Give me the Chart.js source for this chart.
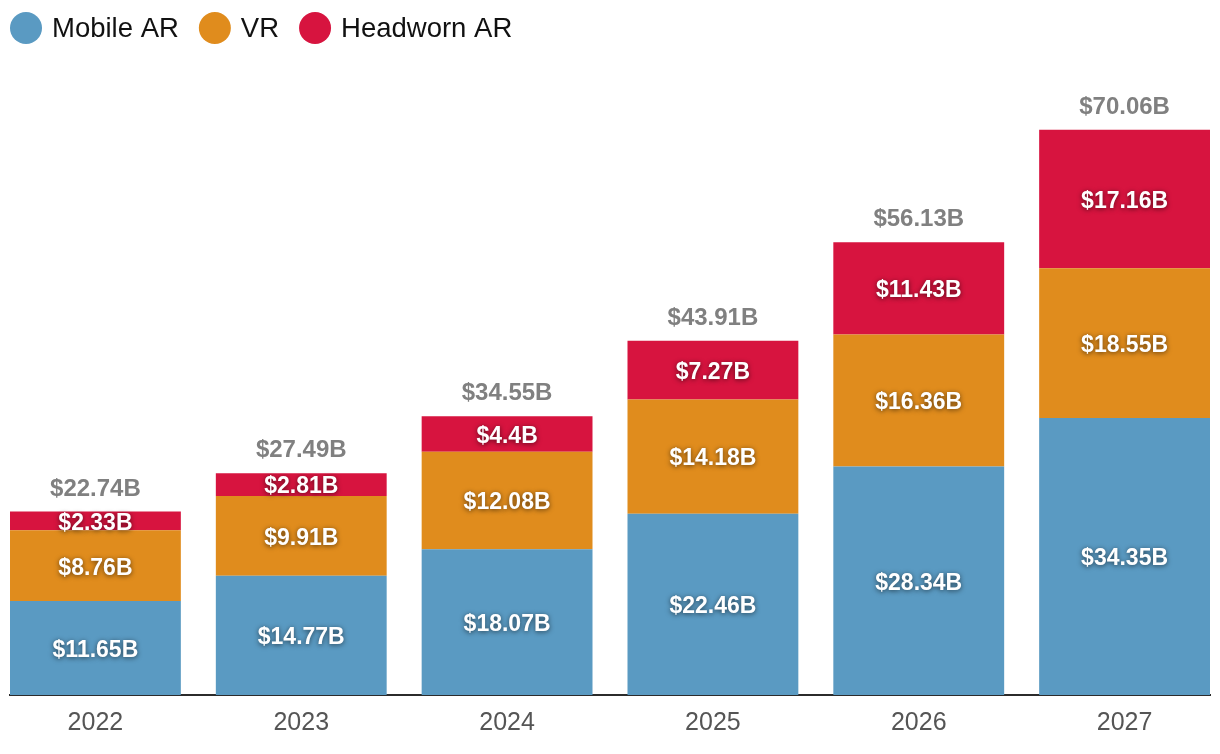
<!DOCTYPE html>
<html>
<head>
<meta charset="utf-8">
<script src="https://cdn.jsdelivr.net/npm/chart.js@4.4.1/dist/chart.umd.min.js"></script>
<style>
  html, body { margin: 0; padding: 0; background: #fff; }
  #wrap { width: 1220px; height: 754px; position: relative; }
</style>
</head>
<body>
<div id="wrap"><canvas id="c" width="1220" height="754"></canvas></div>
<script>
const years = ['2022', '2023', '2024', '2025', '2026', '2027'];
const mobileAR = [11.65, 14.77, 18.07, 22.46, 28.34, 34.35];
const vr = [8.76, 9.91, 12.08, 14.18, 16.36, 18.55];
const headwornAR = [2.33, 2.81, 4.4, 7.27, 11.43, 17.16];
const seriesNames = ['Mobile AR', 'VR', 'Headworn AR'];
const seriesColors = ['#5A9AC2', '#E08C1D', '#D7143F'];

const FONT = '"Liberation Sans", Arial, Helvetica, sans-serif';
const EDGE = 0.415; // fraction of a category step left as margin at the chart edges

const legendPlugin = {
  id: 'customLegend',
  afterDraw(chart) {
    const ctx = chart.ctx;
    ctx.save();
    ctx.font = '27.5px ' + FONT;
    ctx.textBaseline = 'middle';
    ctx.textAlign = 'left';
    let x = 10;
    const cy = 28;
    chart.data.datasets.forEach(ds => {
      ctx.fillStyle = ds.backgroundColor;
      ctx.beginPath();
      ctx.arc(x + 16, cy, 16, 0, Math.PI * 2);
      ctx.fill();
      ctx.fillStyle = '#111';
      ctx.fillText(ds.label, x + 42, cy + 1);
      x += 42 + ctx.measureText(ds.label).width + 20;
    });
    ctx.restore();
  }
};

const labelPlugin = {
  id: 'barLabels',
  afterDatasetsDraw(chart) {
    const ctx = chart.ctx;
    ctx.save();
    ctx.textAlign = 'center';
    ctx.textBaseline = 'middle';
    ctx.font = 'bold 23px ' + FONT;
    chart.data.datasets.forEach((ds, di) => {
      const meta = chart.getDatasetMeta(di);
      meta.data.forEach((el, i) => {
        const v = ds.data[i];
        const cy = (el.y + el.base) / 2;
        ctx.shadowColor = 'rgba(0,0,0,0.6)';
        ctx.shadowBlur = 5;
        ctx.shadowOffsetX = 0;
        ctx.shadowOffsetY = 1;
        ctx.fillStyle = '#ffffff';
        ctx.fillText('$' + v + 'B', el.x, cy + 2.5);
      });
    });
    ctx.shadowColor = 'transparent';
    ctx.shadowBlur = 0;
    ctx.fillStyle = '#808080';
    ctx.font = 'bold 24px ' + FONT;
    const lastMeta = chart.getDatasetMeta(chart.data.datasets.length - 1);
    lastMeta.data.forEach((el, i) => {
      let sum = 0;
      chart.data.datasets.forEach(ds => { sum += ds.data[i]; });
      sum = Math.round(sum * 100) / 100;
      ctx.fillText('$' + sum.toFixed(2) + 'B', el.x, el.y - 22.5);
    });
    ctx.restore();
  }
};

new Chart(document.getElementById('c'), {
  type: 'bar',
  data: {
    labels: years,
    datasets: [
      { label: seriesNames[0], data: mobileAR, backgroundColor: seriesColors[0] },
      { label: seriesNames[1], data: vr, backgroundColor: seriesColors[1] },
      { label: seriesNames[2], data: headwornAR, backgroundColor: seriesColors[2] }
    ]
  },
  options: {
    responsive: false,
    animation: false,
    layout: { padding: { left: 10, right: 10, top: 90, bottom: 3 } },
    datasets: { bar: { barPercentage: 0.83, categoryPercentage: 1, borderWidth: 0 } },
    plugins: { legend: { display: false }, tooltip: { enabled: false } },
    scales: {
      x: {
        stacked: true,
        offset: true,
        afterBuildTicks: (scale) => {
          const n = scale.getLabels().length;
          scale._startValue = -EDGE;
          scale._valueRange = (n - 1) + 2 * EDGE;
        },
        grid: { display: true, drawOnChartArea: false, drawTicks: false, color: 'rgba(0,0,0,0)' },
        border: { display: true, color: '#2b2b2b', width: 2 },
        ticks: {
          autoSkip: false,
          maxRotation: 0,
          padding: 13,
          color: '#555',
          font: { family: FONT, size: 25 }
        }
      },
      y: {
        stacked: true,
        min: 0,
        max: 75,
        display: false
      }
    }
  },
  plugins: [legendPlugin, labelPlugin]
});
</script>
</body>
</html>
